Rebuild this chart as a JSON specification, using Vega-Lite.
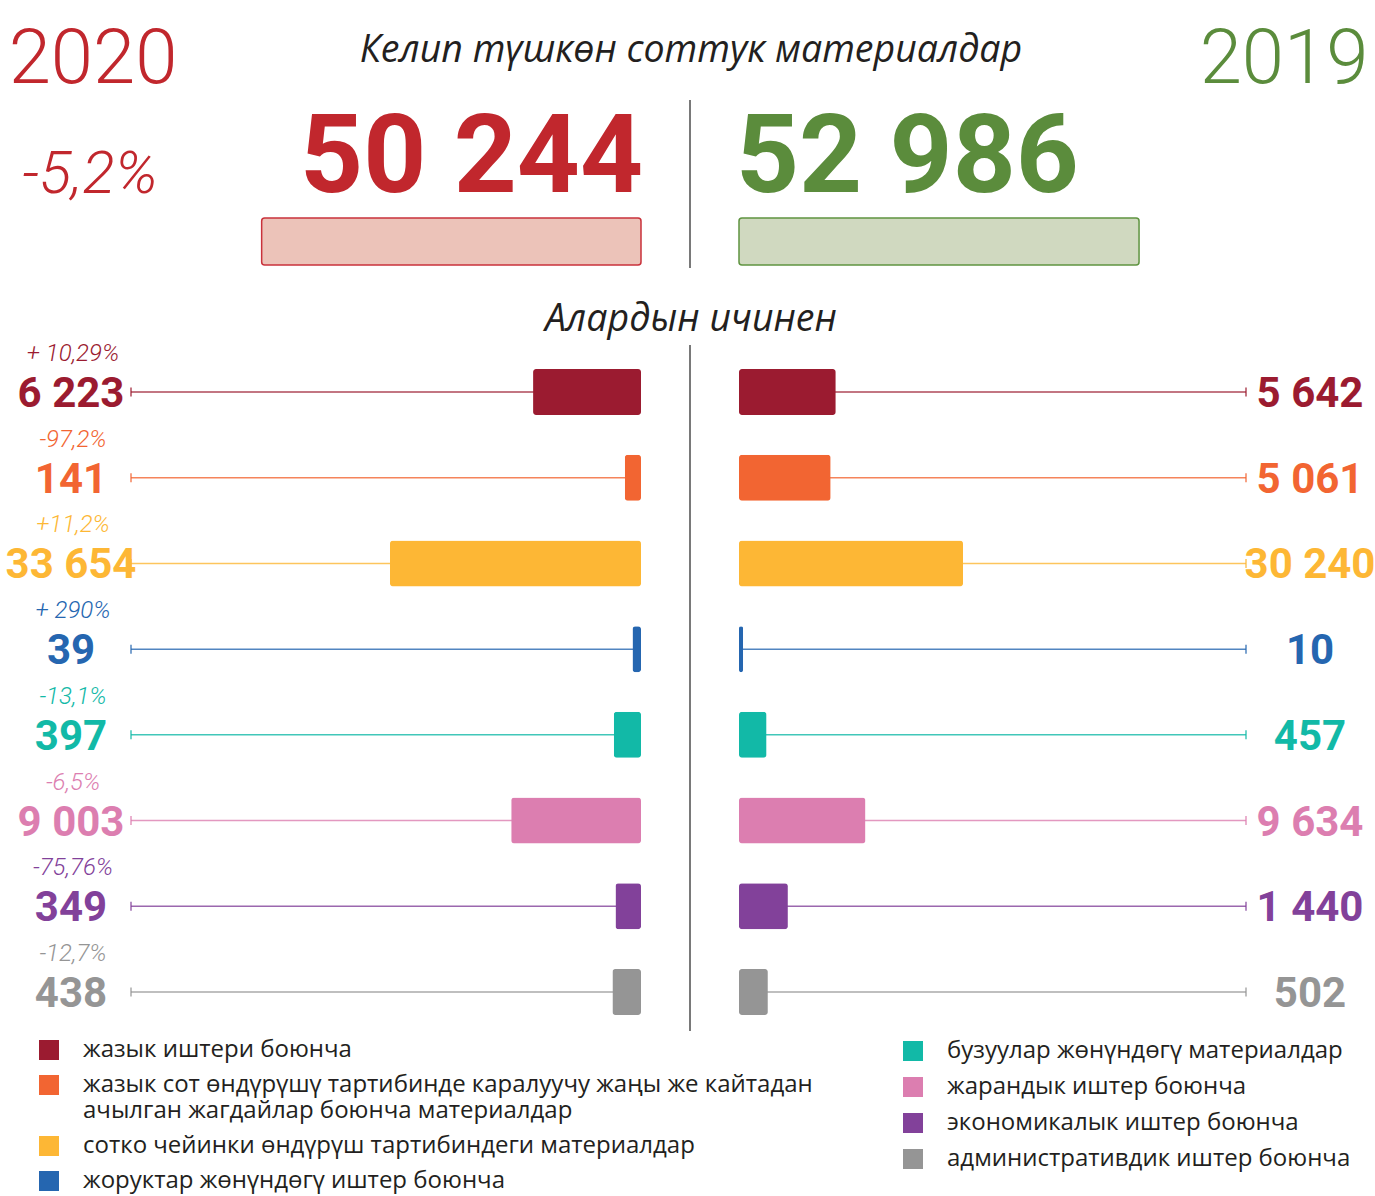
{
  "$schema": "https://vega.github.io/schema/vega-lite/v6.json",
  "width": 1375,
  "height": 1196,
  "autosize": {"type": "none"},
  "padding": 0,
  "background": "white",
  "config": {
    "view": {"stroke": null},
    "locale": {"number": {"decimal": ",", "thousands": " ", "grouping": [3], "currency": ["", ""]}}
  },
  "datasets": {
    "totals": [
      {"year": "2020", "total": 50244, "change": "-5,2%"},
      {"year": "2019", "total": 52986, "change": ""}
    ],
    "headings": [
      {"heading": "Келип түшкөн соттук материалдар"},
      {"heading": "Алардын ичинен"}
    ],
    "items": [
      {"cat": "жазык иштери боюнча", "year": "2020", "value": 6223, "change": "+ 10,29%"},
      {"cat": "жазык сот өндүрүшү тартибинде каралуучу жаңы же кайтадан ачылган жагдайлар боюнча материалдар", "year": "2020", "value": 141, "change": "-97,2%"},
      {"cat": "сотко чейинки өндүрүш тартибиндеги материалдар", "year": "2020", "value": 33654, "change": "+11,2%"},
      {"cat": "жоруктар жөнүндөгү иштер боюнча", "year": "2020", "value": 39, "change": "+ 290%"},
      {"cat": "бузуулар жөнүндөгү материалдар", "year": "2020", "value": 397, "change": "-13,1%"},
      {"cat": "жарандык иштер боюнча", "year": "2020", "value": 9003, "change": "-6,5%"},
      {"cat": "экономикалык иштер боюнча", "year": "2020", "value": 349, "change": "-75,76%"},
      {"cat": "административдик иштер боюнча", "year": "2020", "value": 438, "change": "-12,7%"},
      {"cat": "жазык иштери боюнча", "year": "2019", "value": 5642},
      {"cat": "жазык сот өндүрүшү тартибинде каралуучу жаңы же кайтадан ачылган жагдайлар боюнча материалдар", "year": "2019", "value": 5061},
      {"cat": "сотко чейинки өндүрүш тартибиндеги материалдар", "year": "2019", "value": 30240},
      {"cat": "жоруктар жөнүндөгү иштер боюнча", "year": "2019", "value": 10},
      {"cat": "бузуулар жөнүндөгү материалдар", "year": "2019", "value": 457},
      {"cat": "жарандык иштер боюнча", "year": "2019", "value": 9634},
      {"cat": "экономикалык иштер боюнча", "year": "2019", "value": 1440},
      {"cat": "административдик иштер боюнча", "year": "2019", "value": 502}
    ]
  },
  "layer": [
    {
      "data": {"values": [{}]},
      "mark": {"type": "rule", "color": "#4d4d4d", "strokeWidth": 1.5},
      "encoding": {"x": {"value": 690}, "y": {"value": 100}, "y2": {"value": 268}}
    },
    {
      "data": {"values": [{}]},
      "mark": {"type": "rule", "color": "#4d4d4d", "strokeWidth": 1.5},
      "encoding": {"x": {"value": 690}, "y": {"value": 345}, "y2": {"value": 1031}}
    },
    {
      "data": {"name": "headings"},
      "mark": {"type": "text", "font": "Open Sans", "fontStyle": "italic", "fontSize": 37.5, "color": "#231f20", "align": "center", "baseline": "alphabetic"},
      "encoding": {
        "text": {"field": "heading"},
        "x": {"value": 691},
        "y": {"field": "heading", "type": "nominal", "sort": null, "scale": {"type": "point", "domain": ["Келип түшкөн соттук материалдар", "Алардын ичинен"], "range": [62, 331], "padding": 0}, "axis": null}
      }
    },
    {
      "data": {"name": "totals"},
      "mark": {"type": "text", "font": "Roboto", "fontWeight": 300, "fontSize": 76, "align": "center", "baseline": "alphabetic"},
      "encoding": {
        "text": {"field": "year"},
        "x": {"field": "year", "type": "nominal", "sort": null, "scale": {"type": "point", "domain": ["2020", "2019"], "range": [93, 1284], "padding": 0}, "axis": null},
        "y": {"value": 83},
        "color": {"field": "year", "type": "nominal", "scale": {"domain": ["2020", "2019"], "range": ["#c1272d", "#5b8c3c"]}, "legend": null}
      }
    },
    {
      "data": {"name": "totals"},
      "transform": [{"filter": "datum.year == '2020'"}],
      "mark": {"type": "text", "font": "Roboto", "fontWeight": 300, "fontStyle": "italic", "fontSize": 60, "align": "center", "baseline": "alphabetic", "color": "#c1272d"},
      "encoding": {
        "text": {"field": "change"},
        "x": {"field": "year", "type": "nominal", "sort": null, "scale": {"type": "point", "domain": ["2020", "2019"], "range": [90, 1284], "padding": 0}, "axis": null},
        "y": {"value": 193}
      }
    },
    {
      "data": {"name": "totals"},
      "transform": [{"filter": "datum.year == '2020'"}],
      "mark": {"type": "bar", "fill": "#ecc3b9", "stroke": "#c9323b", "strokeWidth": 1.5, "cornerRadius": 3},
      "encoding": {
        "x": {"field": "total", "type": "quantitative", "scale": {"domain": [0, 60000], "range": [641, 188]}, "axis": null},
        "x2": {"datum": 0},
        "y": {"value": 218}, "y2": {"value": 265}
      }
    },
    {
      "data": {"name": "totals"},
      "transform": [{"filter": "datum.year == '2019'"}],
      "mark": {"type": "bar", "fill": "#d0d9c0", "stroke": "#5f9440", "strokeWidth": 1.5, "cornerRadius": 3},
      "encoding": {
        "x": {"field": "total", "type": "quantitative", "scale": {"domain": [0, 60000], "range": [739, 1192]}, "axis": null},
        "x2": {"datum": 0},
        "y": {"value": 218}, "y2": {"value": 265}
      }
    },
    {
      "data": {"name": "totals"},
      "transform": [{"filter": "datum.year == '2020'"}],
      "mark": {"type": "text", "font": "Roboto", "fontWeight": "bold", "fontSize": 110, "align": "right", "baseline": "alphabetic", "color": "#c1272d"},
      "encoding": {
        "text": {"field": "total", "type": "quantitative", "format": ",d"},
        "x": {"datum": 0, "type": "quantitative", "scale": {"domain": [0, 60000], "range": [643, 190]}, "axis": null},
        "y": {"value": 192}
      }
    },
    {
      "data": {"name": "totals"},
      "transform": [{"filter": "datum.year == '2019'"}],
      "mark": {"type": "text", "font": "Roboto", "fontWeight": "bold", "fontSize": 110, "align": "left", "baseline": "alphabetic", "color": "#5b8c3c"},
      "encoding": {
        "text": {"field": "total", "type": "quantitative", "format": ",d"},
        "x": {"datum": 0, "type": "quantitative", "scale": {"domain": [0, 60000], "range": [736, 1189]}, "axis": null},
        "y": {"value": 192}
      }
    },
    {
      "data": {"name": "items"},
      "transform": [{"filter": "datum.year == '2020'"}],
      "mark": {"type": "rule", "strokeWidth": 1.5, "opacity": 0.8},
      "encoding": {
        "x": {"value": 131}, "x2": {"value": 641},
        "y": {"field": "cat", "type": "nominal", "sort": null, "scale": {"type": "band", "domain": ["жазык иштери боюнча", "жазык сот өндүрүшү тартибинде каралуучу жаңы же кайтадан ачылган жагдайлар боюнча материалдар", "сотко чейинки өндүрүш тартибиндеги материалдар", "жоруктар жөнүндөгү иштер боюнча", "бузуулар жөнүндөгү материалдар", "жарандык иштер боюнча", "экономикалык иштер боюнча", "административдик иштер боюнча"], "range": [369, 1015], "paddingInner": 0.4633, "paddingOuter": 0}, "axis": null},
        "color": {"field": "cat", "type": "nominal", "scale": {"domain": ["жазык иштери боюнча", "жазык сот өндүрүшү тартибинде каралуучу жаңы же кайтадан ачылган жагдайлар боюнча материалдар", "сотко чейинки өндүрүш тартибиндеги материалдар", "жоруктар жөнүндөгү иштер боюнча", "бузуулар жөнүндөгү материалдар", "жарандык иштер боюнча", "экономикалык иштер боюнча", "административдик иштер боюнча"], "range": ["#9b1b30", "#f26532", "#fdb735", "#2566b0", "#12b9a7", "#dc7eb0", "#82419a", "#959595"]}, "legend": null}
      }
    },
    {
      "data": {"name": "items"},
      "transform": [{"filter": "datum.year == '2020'"}],
      "mark": {"type": "tick", "orient": "vertical", "size": 9, "thickness": 1.5, "opacity": 0.8},
      "encoding": {
        "x": {"value": 131},
        "y": {"field": "cat", "type": "nominal", "sort": null, "scale": {"type": "band", "domain": ["жазык иштери боюнча", "жазык сот өндүрүшү тартибинде каралуучу жаңы же кайтадан ачылган жагдайлар боюнча материалдар", "сотко чейинки өндүрүш тартибиндеги материалдар", "жоруктар жөнүндөгү иштер боюнча", "бузуулар жөнүндөгү материалдар", "жарандык иштер боюнча", "экономикалык иштер боюнча", "административдик иштер боюнча"], "range": [369, 1015], "paddingInner": 0.4633, "paddingOuter": 0}, "axis": null},
        "color": {"field": "cat", "type": "nominal", "scale": {"domain": ["жазык иштери боюнча", "жазык сот өндүрүшү тартибинде каралуучу жаңы же кайтадан ачылган жагдайлар боюнча материалдар", "сотко чейинки өндүрүш тартибиндеги материалдар", "жоруктар жөнүндөгү иштер боюнча", "бузуулар жөнүндөгү материалдар", "жарандык иштер боюнча", "экономикалык иштер боюнча", "административдик иштер боюнча"], "range": ["#9b1b30", "#f26532", "#fdb735", "#2566b0", "#12b9a7", "#dc7eb0", "#82419a", "#959595"]}, "legend": null}
      }
    },
    {
      "data": {"name": "items"},
      "transform": [{"filter": "datum.year == '2020'"}],
      "mark": {"type": "bar", "cornerRadius": 3},
      "encoding": {
        "x": {"field": "value", "type": "quantitative", "scale": {"type": "sqrt", "domain": [0, 33654], "range": [641, 390]}, "axis": null},
        "y": {"field": "cat", "type": "nominal", "sort": null, "scale": {"type": "band", "domain": ["жазык иштери боюнча", "жазык сот өндүрүшү тартибинде каралуучу жаңы же кайтадан ачылган жагдайлар боюнча материалдар", "сотко чейинки өндүрүш тартибиндеги материалдар", "жоруктар жөнүндөгү иштер боюнча", "бузуулар жөнүндөгү материалдар", "жарандык иштер боюнча", "экономикалык иштер боюнча", "административдик иштер боюнча"], "range": [369, 1015], "paddingInner": 0.4633, "paddingOuter": 0}, "axis": null},
        "color": {"field": "cat", "type": "nominal", "scale": {"domain": ["жазык иштери боюнча", "жазык сот өндүрүшү тартибинде каралуучу жаңы же кайтадан ачылган жагдайлар боюнча материалдар", "сотко чейинки өндүрүш тартибиндеги материалдар", "жоруктар жөнүндөгү иштер боюнча", "бузуулар жөнүндөгү материалдар", "жарандык иштер боюнча", "экономикалык иштер боюнча", "административдик иштер боюнча"], "range": ["#9b1b30", "#f26532", "#fdb735", "#2566b0", "#12b9a7", "#dc7eb0", "#82419a", "#959595"]},
          "legend": {"values": ["жазык иштери боюнча", "жазык сот өндүрүшү тартибинде каралуучу жаңы же кайтадан ачылган жагдайлар боюнча материалдар", "сотко чейинки өндүрүш тартибиндеги материалдар", "жоруктар жөнүндөгү иштер боюнча"], "orient": "none", "legendX": 37, "legendY": 1038, "title": null, "padding": 0, "symbolType": "square", "symbolSize": 400, "symbolStrokeWidth": 0, "symbolOpacity": 1, "labelFont": "Open Sans", "labelFontSize": 24, "labelColor": "#231f20", "labelLimit": 900, "labelOffset": 22, "rowPadding": 11,
            "labelExpr": "indexof(datum.label, 'ачылган') > 0 ? ['жазык сот өндүрүшү тартибинде каралуучу жаңы же кайтадан', 'ачылган жагдайлар боюнча материалдар'] : datum.label"}}
      }
    },
    {
      "data": {"name": "items"},
      "transform": [{"filter": "datum.year == '2020'"}],
      "mark": {"type": "text", "font": "Roboto", "fontWeight": "bold", "fontSize": 42, "align": "center", "baseline": "alphabetic", "dy": 15},
      "encoding": {
        "text": {"field": "value", "type": "quantitative", "format": ",d"},
        "x": {"value": 71},
        "y": {"field": "cat", "type": "nominal", "sort": null, "scale": {"type": "band", "domain": ["жазык иштери боюнча", "жазык сот өндүрүшү тартибинде каралуучу жаңы же кайтадан ачылган жагдайлар боюнча материалдар", "сотко чейинки өндүрүш тартибиндеги материалдар", "жоруктар жөнүндөгү иштер боюнча", "бузуулар жөнүндөгү материалдар", "жарандык иштер боюнча", "экономикалык иштер боюнча", "административдик иштер боюнча"], "range": [369, 1015], "paddingInner": 0.4633, "paddingOuter": 0}, "axis": null},
        "color": {"field": "cat", "type": "nominal", "scale": {"domain": ["жазык иштери боюнча", "жазык сот өндүрүшү тартибинде каралуучу жаңы же кайтадан ачылган жагдайлар боюнча материалдар", "сотко чейинки өндүрүш тартибиндеги материалдар", "жоруктар жөнүндөгү иштер боюнча", "бузуулар жөнүндөгү материалдар", "жарандык иштер боюнча", "экономикалык иштер боюнча", "административдик иштер боюнча"], "range": ["#9b1b30", "#f26532", "#fdb735", "#2566b0", "#12b9a7", "#dc7eb0", "#82419a", "#959595"]}, "legend": null}
      }
    },
    {
      "data": {"name": "items"},
      "transform": [{"filter": "datum.year == '2020'"}],
      "mark": {"type": "text", "font": "Roboto", "fontWeight": 300, "fontStyle": "italic", "fontSize": 24, "align": "center", "baseline": "alphabetic", "dy": -31},
      "encoding": {
        "text": {"field": "change"},
        "x": {"value": 73},
        "y": {"field": "cat", "type": "nominal", "sort": null, "scale": {"type": "band", "domain": ["жазык иштери боюнча", "жазык сот өндүрүшү тартибинде каралуучу жаңы же кайтадан ачылган жагдайлар боюнча материалдар", "сотко чейинки өндүрүш тартибиндеги материалдар", "жоруктар жөнүндөгү иштер боюнча", "бузуулар жөнүндөгү материалдар", "жарандык иштер боюнча", "экономикалык иштер боюнча", "административдик иштер боюнча"], "range": [369, 1015], "paddingInner": 0.4633, "paddingOuter": 0}, "axis": null},
        "color": {"field": "cat", "type": "nominal", "scale": {"domain": ["жазык иштери боюнча", "жазык сот өндүрүшү тартибинде каралуучу жаңы же кайтадан ачылган жагдайлар боюнча материалдар", "сотко чейинки өндүрүш тартибиндеги материалдар", "жоруктар жөнүндөгү иштер боюнча", "бузуулар жөнүндөгү материалдар", "жарандык иштер боюнча", "экономикалык иштер боюнча", "административдик иштер боюнча"], "range": ["#9b1b30", "#f26532", "#fdb735", "#2566b0", "#12b9a7", "#dc7eb0", "#82419a", "#959595"]}, "legend": null}
      }
    },
    {
      "data": {"name": "items"},
      "transform": [{"filter": "datum.year == '2019'"}],
      "mark": {"type": "rule", "strokeWidth": 1.5, "opacity": 0.8},
      "encoding": {
        "x": {"value": 739}, "x2": {"value": 1246},
        "y": {"field": "cat", "type": "nominal", "sort": null, "scale": {"type": "band", "domain": ["жазык иштери боюнча", "жазык сот өндүрүшү тартибинде каралуучу жаңы же кайтадан ачылган жагдайлар боюнча материалдар", "сотко чейинки өндүрүш тартибиндеги материалдар", "жоруктар жөнүндөгү иштер боюнча", "бузуулар жөнүндөгү материалдар", "жарандык иштер боюнча", "экономикалык иштер боюнча", "административдик иштер боюнча"], "range": [369, 1015], "paddingInner": 0.4633, "paddingOuter": 0}, "axis": null},
        "color": {"field": "cat", "type": "nominal", "scale": {"domain": ["жазык иштери боюнча", "жазык сот өндүрүшү тартибинде каралуучу жаңы же кайтадан ачылган жагдайлар боюнча материалдар", "сотко чейинки өндүрүш тартибиндеги материалдар", "жоруктар жөнүндөгү иштер боюнча", "бузуулар жөнүндөгү материалдар", "жарандык иштер боюнча", "экономикалык иштер боюнча", "административдик иштер боюнча"], "range": ["#9b1b30", "#f26532", "#fdb735", "#2566b0", "#12b9a7", "#dc7eb0", "#82419a", "#959595"]}, "legend": null}
      }
    },
    {
      "data": {"name": "items"},
      "transform": [{"filter": "datum.year == '2019'"}],
      "mark": {"type": "tick", "orient": "vertical", "size": 9, "thickness": 1.5, "opacity": 0.8},
      "encoding": {
        "x": {"value": 1246},
        "y": {"field": "cat", "type": "nominal", "sort": null, "scale": {"type": "band", "domain": ["жазык иштери боюнча", "жазык сот өндүрүшү тартибинде каралуучу жаңы же кайтадан ачылган жагдайлар боюнча материалдар", "сотко чейинки өндүрүш тартибиндеги материалдар", "жоруктар жөнүндөгү иштер боюнча", "бузуулар жөнүндөгү материалдар", "жарандык иштер боюнча", "экономикалык иштер боюнча", "административдик иштер боюнча"], "range": [369, 1015], "paddingInner": 0.4633, "paddingOuter": 0}, "axis": null},
        "color": {"field": "cat", "type": "nominal", "scale": {"domain": ["жазык иштери боюнча", "жазык сот өндүрүшү тартибинде каралуучу жаңы же кайтадан ачылган жагдайлар боюнча материалдар", "сотко чейинки өндүрүш тартибиндеги материалдар", "жоруктар жөнүндөгү иштер боюнча", "бузуулар жөнүндөгү материалдар", "жарандык иштер боюнча", "экономикалык иштер боюнча", "административдик иштер боюнча"], "range": ["#9b1b30", "#f26532", "#fdb735", "#2566b0", "#12b9a7", "#dc7eb0", "#82419a", "#959595"]}, "legend": null}
      }
    },
    {
      "data": {"name": "items"},
      "transform": [{"filter": "datum.year == '2019'"}],
      "mark": {"type": "bar", "cornerRadius": 3},
      "encoding": {
        "x": {"field": "value", "type": "quantitative", "scale": {"type": "sqrt", "domain": [0, 30240], "range": [739, 963]}, "axis": null},
        "y": {"field": "cat", "type": "nominal", "sort": null, "scale": {"type": "band", "domain": ["жазык иштери боюнча", "жазык сот өндүрүшү тартибинде каралуучу жаңы же кайтадан ачылган жагдайлар боюнча материалдар", "сотко чейинки өндүрүш тартибиндеги материалдар", "жоруктар жөнүндөгү иштер боюнча", "бузуулар жөнүндөгү материалдар", "жарандык иштер боюнча", "экономикалык иштер боюнча", "административдик иштер боюнча"], "range": [369, 1015], "paddingInner": 0.4633, "paddingOuter": 0}, "axis": null},
        "color": {"field": "cat", "type": "nominal", "scale": {"domain": ["жазык иштери боюнча", "жазык сот өндүрүшү тартибинде каралуучу жаңы же кайтадан ачылган жагдайлар боюнча материалдар", "сотко чейинки өндүрүш тартибиндеги материалдар", "жоруктар жөнүндөгү иштер боюнча", "бузуулар жөнүндөгү материалдар", "жарандык иштер боюнча", "экономикалык иштер боюнча", "административдик иштер боюнча"], "range": ["#9b1b30", "#f26532", "#fdb735", "#2566b0", "#12b9a7", "#dc7eb0", "#82419a", "#959595"]},
          "legend": {"values": ["бузуулар жөнүндөгү материалдар", "жарандык иштер боюнча", "экономикалык иштер боюнча", "административдик иштер боюнча"], "orient": "none", "legendX": 901, "legendY": 1039, "title": null, "padding": 0, "symbolType": "square", "symbolSize": 400, "symbolStrokeWidth": 0, "symbolOpacity": 1, "labelFont": "Open Sans", "labelFontSize": 24, "labelColor": "#231f20", "labelLimit": 900, "labelOffset": 22, "rowPadding": 12}}
      }
    },
    {
      "data": {"name": "items"},
      "transform": [{"filter": "datum.year == '2019'"}],
      "mark": {"type": "text", "font": "Roboto", "fontWeight": "bold", "fontSize": 42, "align": "center", "baseline": "alphabetic", "dy": 15},
      "encoding": {
        "text": {"field": "value", "type": "quantitative", "format": ",d"},
        "x": {"value": 1310},
        "y": {"field": "cat", "type": "nominal", "sort": null, "scale": {"type": "band", "domain": ["жазык иштери боюнча", "жазык сот өндүрүшү тартибинде каралуучу жаңы же кайтадан ачылган жагдайлар боюнча материалдар", "сотко чейинки өндүрүш тартибиндеги материалдар", "жоруктар жөнүндөгү иштер боюнча", "бузуулар жөнүндөгү материалдар", "жарандык иштер боюнча", "экономикалык иштер боюнча", "административдик иштер боюнча"], "range": [369, 1015], "paddingInner": 0.4633, "paddingOuter": 0}, "axis": null},
        "color": {"field": "cat", "type": "nominal", "scale": {"domain": ["жазык иштери боюнча", "жазык сот өндүрүшү тартибинде каралуучу жаңы же кайтадан ачылган жагдайлар боюнча материалдар", "сотко чейинки өндүрүш тартибиндеги материалдар", "жоруктар жөнүндөгү иштер боюнча", "бузуулар жөнүндөгү материалдар", "жарандык иштер боюнча", "экономикалык иштер боюнча", "административдик иштер боюнча"], "range": ["#9b1b30", "#f26532", "#fdb735", "#2566b0", "#12b9a7", "#dc7eb0", "#82419a", "#959595"]}, "legend": null}
      }
    }
  ],
  "resolve": {
    "scale": {"x": "independent", "y": "independent", "color": "independent"},
    "legend": {"color": "independent"}
  }
}
